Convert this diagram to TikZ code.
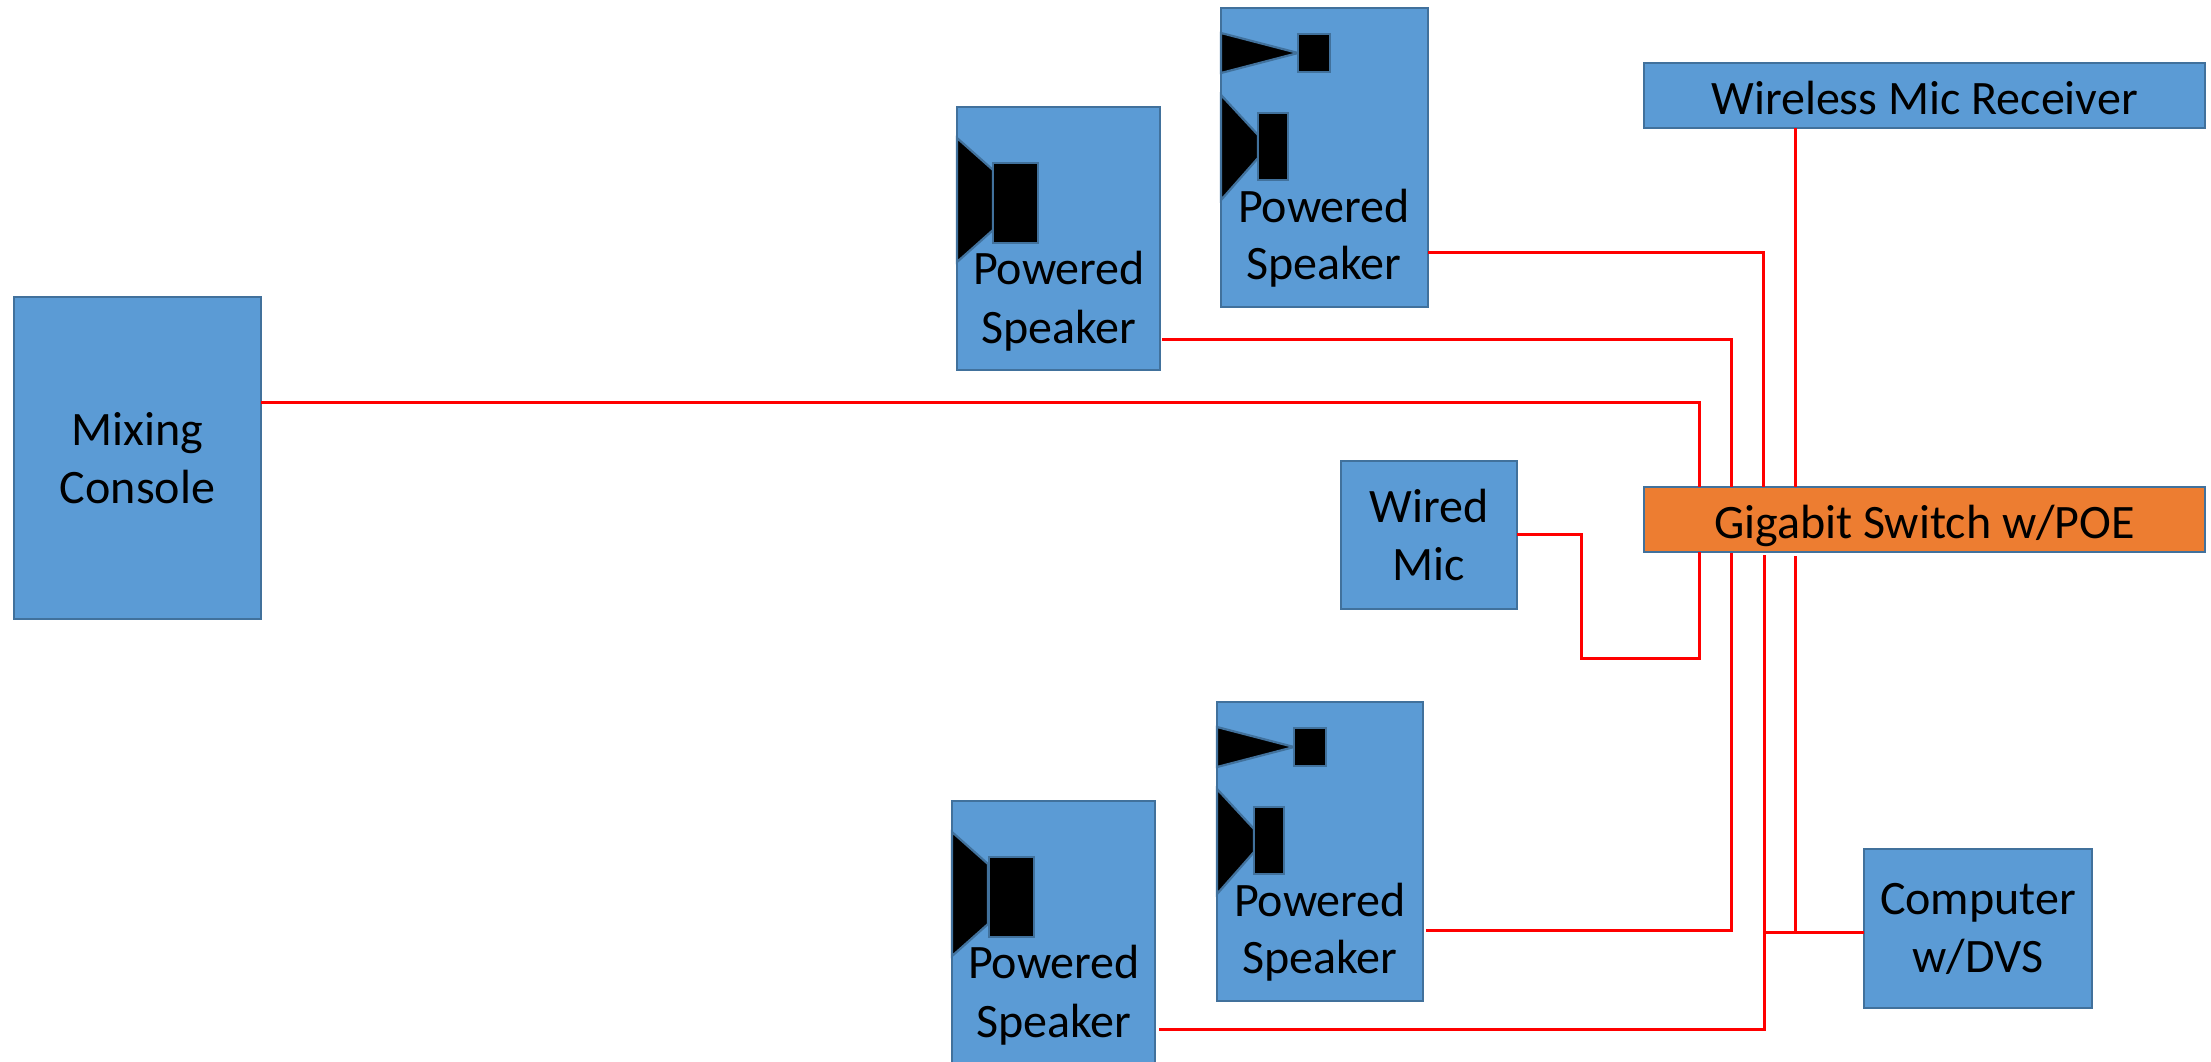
\documentclass[tikz,border=0pt]{standalone}
\usepackage{fontspec}
\setmainfont{Carlito}
\definecolor{boxblue}{HTML}{5B9BD5}
\definecolor{boxedge}{HTML}{41719C}
\definecolor{boxorange}{HTML}{ED7D31}
\newcommand{\spkfont}{\fontsize{48.2}{58.2}\selectfont}
\tikzset{
  box/.style={draw=boxedge,line width=2.5bp,fill=boxblue,anchor=north west,inner sep=0pt,outer sep=0pt,align=center,font=\spkfont},
  onerow/.style={text height=38.5bp,text depth=0bp},
  swbox/.style={box,fill=boxorange,onerow},
  wire/.style={draw=red,line width=3bp,line cap=butt,line join=miter},
  cone/.style={draw=boxedge,line width=2.2bp,fill=black},
  lbl/.style={inner sep=0pt,outer sep=0pt,align=center,font=\spkfont,anchor=base}
}
\begin{document}
\begin{tikzpicture}[x=1bp,y=-1bp]
\useasboundingbox (0,0) rectangle (2211,1061);
\clip (0,0) rectangle (2211,1061);
% boxes
\node[box,minimum width=247bp,minimum height=322bp] (mix) at (14,297) {Mixing\\Console};
\node[box,minimum width=176bp,minimum height=148bp] (wmic) at (1341,461) {Wired\\Mic};
\node[box,onerow,minimum width=561bp,minimum height=65bp] (wrx) at (1644,63) {Wireless Mic Receiver};
\node[swbox,minimum width=561bp,minimum height=65bp] (sw) at (1644,487) {Gigabit Switch w/POE};
\node[box,minimum width=228bp,minimum height=159bp] (pc) at (1864,849) {Computer\\w/DVS};
\node[box,minimum width=203bp,minimum height=263bp] (spa) at (957,107) {};
\node[box,minimum width=207bp,minimum height=299bp] (spb) at (1221,8) {};
\node[box,minimum width=206bp,minimum height=299bp] (spc) at (1217,702) {};
\node[box,minimum width=203bp,minimum height=263bp] (spd) at (952,801) {};
% speaker A
\draw[cone] (957,138) -- (993,170) -- (993,230) -- (957,262) -- cycle;
\draw[cone] (993,163) rectangle (1038,243);
\node[lbl] (ta1) at (1059,284) {Powered};
\node[lbl] (ta2) at (1059,343) {Speaker};
% speaker B
\draw[cone] (1221,33) -- (1298,53) -- (1221,73) -- cycle;
\draw[cone] (1298,34) rectangle (1330,72);
\draw[cone] (1221,95) -- (1258,135) -- (1258,158) -- (1221,200) -- cycle;
\draw[cone] (1258,113) rectangle (1288,180);
\node[lbl] (tb1) at (1324,222) {Powered};
\node[lbl] (tb2) at (1324,279) {Speaker};
% speaker C
\draw[cone] (1217,727) -- (1294,747) -- (1217,767) -- cycle;
\draw[cone] (1294,728) rectangle (1326,766);
\draw[cone] (1217,789) -- (1254,829) -- (1254,852) -- (1217,894) -- cycle;
\draw[cone] (1254,807) rectangle (1284,874);
\node[lbl] (tc1) at (1320,916) {Powered};
\node[lbl] (tc2) at (1320,973) {Speaker};
% speaker D
\draw[cone] (952,832) -- (988,864) -- (988,924) -- (952,956) -- cycle;
\draw[cone] (989,857) rectangle (1034,937);
\node[lbl] (td1) at (1054,978) {Powered};
\node[lbl] (td2) at (1054,1037) {Speaker};
% connector ends
\coordinate (mixS) at (261,402);
\coordinate (swM) at (1699,487);
\coordinate (spaS) at (1162,339);
\coordinate (swA) at (1731,487);
\coordinate (spbS) at (1428,252);
\coordinate (swB) at (1763,487);
\coordinate (wrxS) at (1795,128);
\coordinate (swW) at (1795,487);
\coordinate (micS) at (1517,534);
\coordinate (swMd) at (1699,552);
\coordinate (spcS) at (1426,930);
\coordinate (swCd) at (1731,553);
\coordinate (spdS) at (1159,1029);
\coordinate (swDd) at (1764,555);
\coordinate (swPd) at (1795,556);
\coordinate (pcS) at (1864,932);
\coordinate (jD) at (1764,932);
\coordinate (jP) at (1795,932);
\coordinate (micC1) at (1581,534);
\coordinate (micC2) at (1581,658);
% connectors
\draw[wire] (mixS) -| (swM);
\draw[wire] (spaS) -| (swA);
\draw[wire] (spbS) -| (swB);
\draw[wire] (wrxS) -- (swW);
\draw[wire] (micS) -- (micC1) -- (micC2) -| (swMd);
\draw[wire] (spcS) -| (swCd);
\draw[wire] (spdS) -| (swDd);
\draw[wire] (swPd) -- (jP);
\draw[wire] (jD) -- (pcS);
\end{tikzpicture}
\end{document}
